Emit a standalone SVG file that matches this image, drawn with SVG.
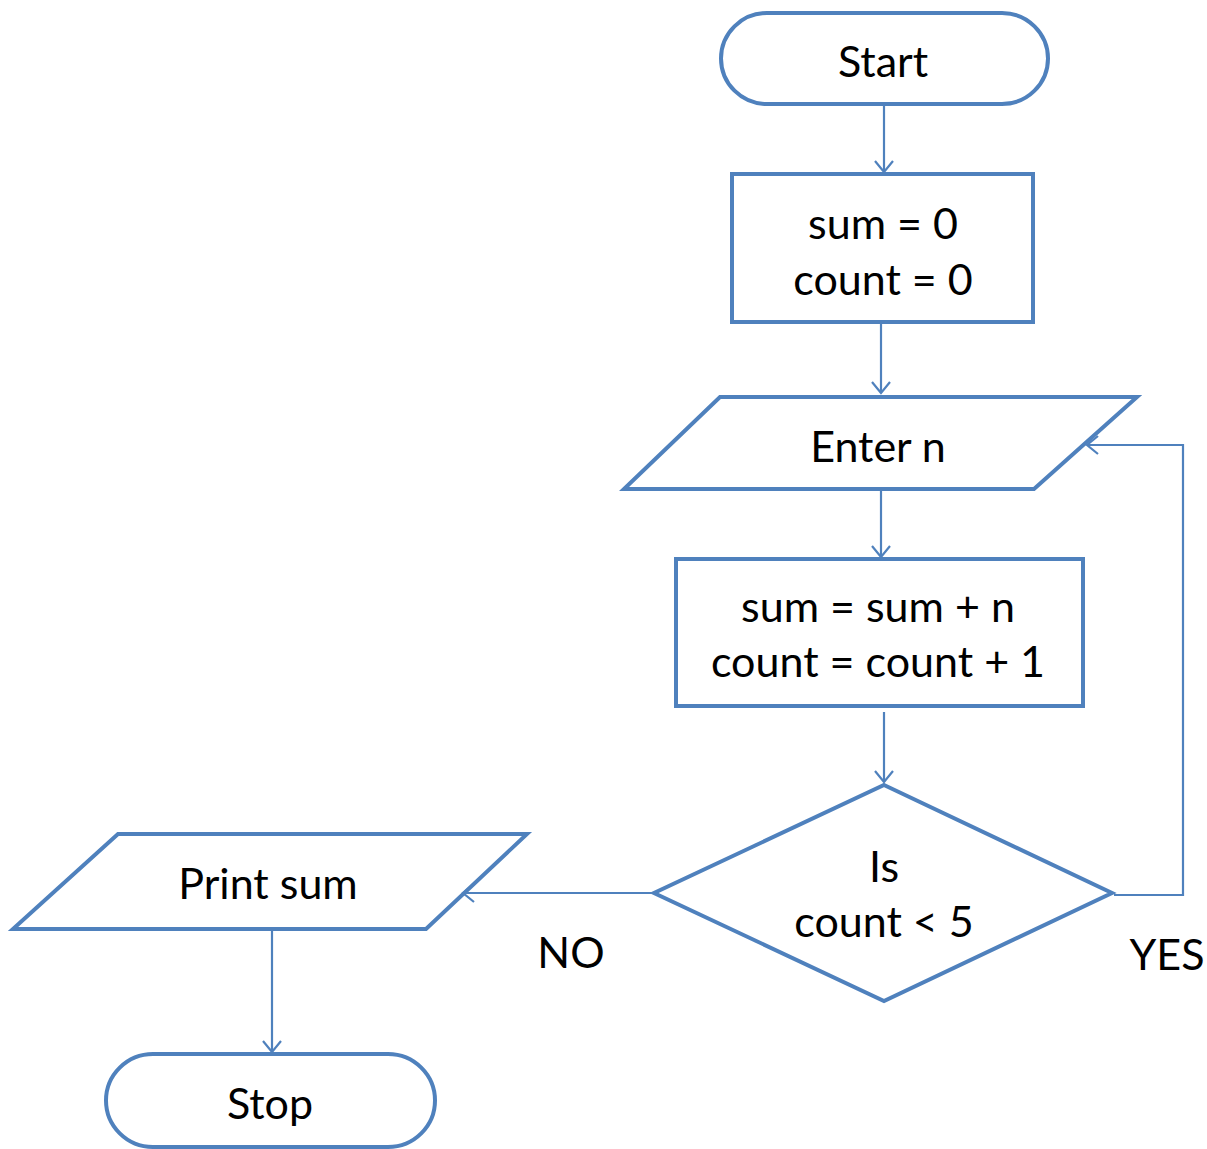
<svg xmlns="http://www.w3.org/2000/svg" width="1207" height="1149" viewBox="0 0 1207 1149">
<defs>
<style>
.shape{fill:#fff;stroke:#4F81BD;stroke-width:4;stroke-linejoin:miter}
.conn{fill:none;stroke:#4F81BD;stroke-width:2.2}
.lbl{font-family:Lato,"Open Sans","Liberation Sans",sans-serif;font-size:43px;fill:#000;text-anchor:middle}
</style>
<marker id="arr" viewBox="0 0 22 22" refX="20" refY="11" markerWidth="22" markerHeight="22" markerUnits="userSpaceOnUse" orient="auto">
<path d="M9,2 L20,11 L9,20" fill="none" stroke="#4F81BD" stroke-width="2.2"/>
</marker>
</defs>
<rect width="1207" height="1149" fill="#fff"/>
<g id="start">
<rect class="shape" x="721" y="13" width="327" height="91" rx="46" ry="46"/>
<text class="lbl" x="883" y="77">Start</text>
</g>
<g id="init">
<rect class="shape" x="732" y="174" width="301" height="148"/>
<text class="lbl" x="883" y="239">sum = 0</text>
<text class="lbl" x="883" y="295">count = 0</text>
</g>
<g id="enter">
<polygon class="shape" points="720,397 1137,397 1034,489 624,489"/>
<text class="lbl" x="878" y="462">Enter n</text>
</g>
<g id="update">
<rect class="shape" x="676" y="559" width="407" height="147"/>
<text class="lbl" x="878" y="622">sum = sum + n</text>
<text class="lbl" x="878" y="677">count = count + 1</text>
</g>
<g id="decision">
<polygon class="shape" points="884,785 1112,893 884,1001 654,893"/>
<text class="lbl" x="884" y="882">Is</text>
<text class="lbl" x="884" y="937">count &lt; 5</text>
</g>
<g id="print">
<polygon class="shape" points="118,834 527,834 426,929 13,929"/>
<text class="lbl" x="268" y="899">Print sum</text>
</g>
<g id="stop">
<rect class="shape" x="106" y="1054" width="329" height="93" rx="47" ry="47"/>
<text class="lbl" x="270" y="1119">Stop</text>
</g>
<g id="connectors">
<line class="conn" x1="884" y1="106" x2="884" y2="172" marker-end="url(#arr)"/>
<line class="conn" x1="881" y1="324" x2="881" y2="393" marker-end="url(#arr)"/>
<line class="conn" x1="881" y1="491" x2="881" y2="557" marker-end="url(#arr)"/>
<line class="conn" x1="884" y1="712" x2="884" y2="782" marker-end="url(#arr)"/>
<polyline class="conn" points="1114,895 1183,895 1183,445 1087,445" marker-end="url(#arr)"/>
<line class="conn" x1="652" y1="893" x2="463" y2="893" marker-end="url(#arr)"/>
<line class="conn" x1="272" y1="931" x2="272" y2="1052" marker-end="url(#arr)"/>
<text class="lbl" x="571" y="968">NO</text>
<text class="lbl" x="1167" y="970">YES</text>
</g>
</svg>
